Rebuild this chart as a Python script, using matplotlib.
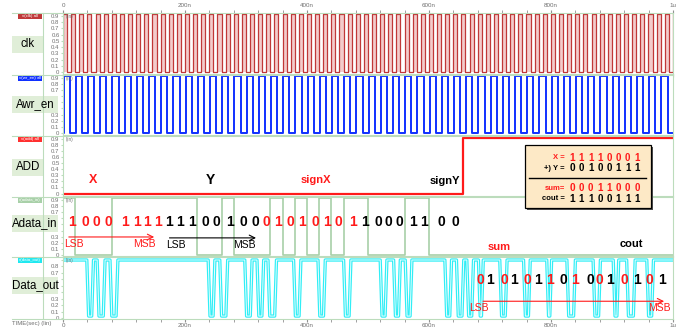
import numpy as np
import matplotlib
matplotlib.use("Agg")
import matplotlib.pyplot as plt
from matplotlib.patches import Rectangle

plt.rcParams['font.family'] = ['Liberation Sans', 'DejaVu Sans']

# ---- data (times in ns) ----
clk_period = 13.33
awr_period = 20.0
add_t = [0, 656, 1000]
add_v = [0, 1, 1]
adata_t = [0, 20, 80, 220, 260, 280, 340, 360, 380, 400, 420, 440, 460, 500, 560, 600, 1000]
adata_v = [1, 0, 1, 0, 1, 0, 1, 0, 1, 0, 1, 0, 1, 0, 1, 0, 0]
dout_dips = [(39, 47), (56, 66), (77, 87), (238, 246), (257, 267), (298, 307), (318, 326),
             (336, 347), (378, 387), (418, 427), (460, 469), (520, 528), (542, 550), (561, 569),
             (626, 634), (645, 654), (662, 670), (681, 686), (716, 725), (755, 763), (793, 798),
             (826, 837), (869, 878), (902, 908), (924, 935), (957, 965)]

adata_bits = list("10001111111001000101010110001100")
adata_cols = list("rrrrrrrrkkkkkkkkrrrrrrrrkkkkkkkk")
adata_bit_t = [14, 36, 55, 74, 102, 121, 138, 156, 173, 192, 211, 233, 252, 274, 296, 315,
               334, 353, 372, 391, 413, 432, 451, 476, 495, 517, 533, 552, 574, 591, 621, 643]
dout_bits = list("0101011010010101")
dout_cols = list("rkrkrkrkrkrkrkrk")
dout_bit_t = [684, 700, 723, 739, 762, 779, 798, 820, 839, 864, 880, 897, 921, 941, 962, 982]

X_bits = [1, 1, 1, 1, 0, 0, 0, 1]
Y_bits = [0, 0, 1, 0, 0, 1, 1, 1]
sum_bits = [0, 0, 0, 1, 1, 0, 0, 0]
cout_bits = [1, 1, 1, 0, 0, 1, 1, 1]

names = ["clk", "Awr_en", "ADD", "Adata_in", "Data_out"]
tags = ["v(clk) all", "v(wr_en) all", "v(add) all", "v(adata_in)", "v(data_out)"]
colors = ["#c03838", "#1030ff", "#ff3030", "#a8d0a8", "#20e8f0"]
time_ticks = [0, 200, 400, 600, 800, 1000]
time_labels = ["0", "200n", "400n", "600n", "800n", "1u"]

W, H = 686, 330
# panel geometry in pixels: top, bottom, y of value 0, y of value 0.9
geom = [(13, 74, 72.3, 15.7), (75, 135, 133, 77.5), (136, 196, 193.5, 139),
        (197, 256, 255, 200), (257, 319, 318, 260)]
name_cy = [44, 104, 167.5, 223.5, 285]
X0, X1 = 63, 673
RED = "#ff1a1a"
GRID = "#bcdcbc"
GRAY = "#707070"


def frac(x0, y0, x1, y1):
    return [x0 / W, 1 - y1 / H, (x1 - x0) / W, (y1 - y0) / H]


def step_xy(t, v):
    t = np.asarray(t, float)
    v = np.asarray(v, float)
    tt = np.repeat(t, 2)[1:]
    vv = np.repeat(v, 2)[:-1]
    return tt, vv


def sq_wave(period, phase=0.0, t_end=1000):
    edges = np.arange(phase, t_end, period / 2)
    t = np.concatenate([[0], edges, [t_end]])
    v = np.concatenate([[0], (np.arange(len(edges)) % 2 == 0).astype(float), [0]])
    v[-1] = v[-2]
    return step_xy(t, v)


fig = plt.figure(figsize=(W / 100, H / 100), dpi=100)
axes = []
for i, (top, bot, z, n) in enumerate(geom):
    ax = fig.add_axes(frac(X0, top, X1, bot))
    s = (z - n) / 0.9
    ax.set_ylim(-(bot - z) / s, (z - top) / s)
    ax.set_xlim(0, 1000)
    for sp in ax.spines.values():
        sp.set_color(GRID)
        sp.set_linewidth(0.8)
    yt = np.round(np.arange(0, 1.0, 0.1), 1)
    ax.set_yticks(yt)
    labs = ["0"] + [f"{v:.1f}" for v in yt[1:]]
    if len(names[i]) > 3:
        # these sit behind the name box in the reference
        labs = [l if not (0.35 < v < 0.65) else "" for l, v in zip(labs, yt)]
    if i == 4:
        labs[-1] = ""
    ax.set_yticklabels(labs)
    ax.tick_params(axis='y', labelsize=4.3, labelcolor=GRAY, length=1.5, pad=1, color=GRID)
    ax.set_xticks(time_ticks)
    ax.set_xticks(np.arange(0, 1001, 40), minor=True)
    ax.tick_params(axis='x', which='both', length=0, labelbottom=False)
    ax.text(4, (z - top - 3.5) / s, "(lin)", fontsize=3.3, color=GRAY, va='center')
    axes.append(ax)

# clk
t, v = sq_wave(clk_period, phase=0.0)
v = v * 0.92
axes[0].fill_between(t, 0, v, color="#f3cccc", lw=0)
axes[0].plot(t, v, color=colors[0], lw=0.9)
# Awr_en
t, v = sq_wave(awr_period, phase=1.0)
axes[1].plot(t, v * 0.92, color=colors[1], lw=1.4)
# ADD
tt, vv = step_xy(add_t, np.array(add_v) * 0.92)
axes[2].plot(tt, vv, color=RED, lw=1.6)
# Adata_in
tt, vv = step_xy(adata_t, np.array(adata_v) * 0.93)
axes[3].plot(tt, vv, color=colors[3], lw=1.2)
# Data_out
hi, lo, e = 0.9, 0.03, 3
dt, dv = [0], [hi]
for a, b in dout_dips:
    dt += [a, a + e, b, b + e]
    dv += [hi, lo, lo, hi]
dt.append(1000)
dv.append(hi)
axes[4].plot(dt, dv, color="#30eef6", lw=2.4)
axes[4].plot(dt, dv, color="#eaffff", lw=0.7)

# time axes
ax = axes[0]
ax.tick_params(axis='x', which='both', top=True, labeltop=True, length=2, color="#909090",
               labelsize=4.5, labelcolor=GRAY, pad=1.5)
ax.set_xticklabels(time_labels)
ax = axes[4]
ax.tick_params(axis='x', which='both', bottom=True, labelbottom=True, length=2, color="#909090",
               labelsize=4.5, labelcolor=GRAY, pad=1)
ax.set_xticklabels(time_labels)

# ADD annotations
ax = axes[2]
ax.text(49, 0.22, "X", color=RED, fontsize=9, fontweight='bold', ha='center', va='center')
ax.text(241, 0.22, "Y", color='black', fontsize=10, fontweight='heavy', ha='center', va='center')
ax.text(415, 0.22, "signX", color=RED, fontsize=8, fontweight='bold', ha='center', va='center')
ax.text(626, 0.21, "signY", color='black', fontsize=8, fontweight='bold', ha='center', va='center')

# Adata_in annotations
ax = axes[3]
for b, c, tb in zip(adata_bits, adata_cols, adata_bit_t):
    ax.text(tb, 0.54, b, color=RED if c == 'r' else 'black', fontsize=10, fontweight='bold',
            ha='center', va='center')
ax.annotate("", xy=(154, 0.295), xytext=(5, 0.295),
            arrowprops=dict(arrowstyle='->', color=RED, lw=0.8))
ax.annotate("", xy=(321, 0.28), xytext=(170, 0.28),
            arrowprops=dict(arrowstyle='->', color='black', lw=0.8))
ax.text(18, 0.18, "LSB", color=RED, fontsize=7.5, ha='center', va='center')
ax.text(133, 0.18, "MSB", color=RED, fontsize=7.5, ha='center', va='center')
ax.text(185, 0.165, "LSB", color='black', fontsize=7.5, ha='center', va='center')
ax.text(298, 0.165, "MSB", color='black', fontsize=7.5, ha='center', va='center')
ax.text(715, 0.13, "sum", color=RED, fontsize=8, fontweight='bold', ha='center', va='center')
ax.text(931, 0.18, "cout", color='black', fontsize=8, fontweight='bold', ha='center', va='center')

# Data_out annotations
ax = axes[4]
for b, c, tb in zip(dout_bits, dout_cols, dout_bit_t):
    ax.text(tb, 0.59, b, color=RED if c == 'r' else 'black', fontsize=10, fontweight='bold',
            ha='center', va='center')
ax.annotate("", xy=(990, 0.26), xytext=(684, 0.26),
            arrowprops=dict(arrowstyle='->', color=RED, lw=0.8))
ax.text(682, 0.155, "LSB", color=RED, fontsize=7.5, ha='center', va='center')
ax.text(977, 0.155, "MSB", color=RED, fontsize=7.5, ha='center', va='center')

# overlay in pixel coordinates
ov = fig.add_axes([0, 0, 1, 1], zorder=10)
ov.set_xlim(0, W)
ov.set_ylim(H, 0)
ov.axis('off')
ov.patch.set_alpha(0)

ov.plot([43, 43], [13, 319], color=GRID, lw=0.8)
for i, (top, bot, z, n) in enumerate(geom):
    ov.plot([12, X0], [top, top], color=GRID, lw=0.8)
    # signal tag
    ov.add_patch(Rectangle((18, top + 0.5), 24, 5.5, color=colors[i], lw=0))
    ov.text(30, top + 3.3, tags[i], fontsize=3.2, color='white', ha='center', va='center')
    # name box
    x1 = 58 if len(names[i]) > 3 else 44
    cy = name_cy[i]
    ov.add_patch(Rectangle((12, cy - 8.5), x1 - 12, 17, color="#e0eed8", lw=0))
    ov.text((12 + x1) / 2, cy, names[i], fontsize=8.3, color='black', ha='center', va='center')
ov.plot([12, X0], [319, 319], color=GRID, lw=0.8)
ov.text(12, 324, "TIME(sec) (lin)", fontsize=4.3, color=GRAY, va='center')

# sum box
bx0, by0, bx1, by1 = 525, 145, 651, 208
ov.add_patch(Rectangle((bx0 + 1.5, by0 + 1.5), bx1 - bx0, by1 - by0, color="#505050", lw=0))
ov.add_patch(Rectangle((bx0, by0), bx1 - bx0, by1 - by0, facecolor="#fde9c6",
                       edgecolor='black', lw=0.9))
ov.plot([529, 646], [177.7, 177.7], color='black', lw=1.0)
rows = [("X =", X_bits, RED, 157.7), ("+) Y =", Y_bits, 'black', 168.3),
        ("sum=", sum_bits, RED, 188.3), ("cout =", cout_bits, 'black', 198.5)]
for lab, bits, c, y in rows:
    ov.text(565, y, lab, fontsize=5.5, fontweight='bold', color=c, ha='right', va='center')
    for k, b in enumerate(bits):
        ov.text(572 + 9.3 * k, y, str(b), fontsize=7.3 if k == 0 else 7.0,
                fontweight='heavy' if k == 0 else 'bold',
                color=c, ha='center', va='center')

fig.savefig("out.png", dpi=100)
